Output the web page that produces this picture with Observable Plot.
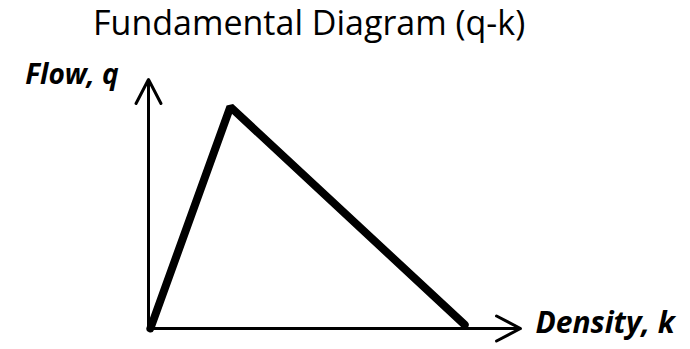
<!DOCTYPE html>
<html>
<head>
<meta charset="utf-8">
<script src="https://cdn.jsdelivr.net/npm/d3@7"></script>
<script src="https://cdn.jsdelivr.net/npm/@observablehq/plot@0.6"></script>
<style>
  body { margin: 0; background: #fff; }
  #wrap { width: 690px; height: 349px; position: relative; overflow: hidden; }
  #title { height: 50px; line-height: 44px; font-family: "Open Sans", sans-serif; font-size: 34px; color: #000; padding-left: 93px; white-space: nowrap; box-sizing: border-box; }
  svg { display: block; }
</style>
</head>
<body>
<div id="wrap">
  <div id="title">Fundamental Diagram (q-k)</div>
</div>
<script>
// Triangular fundamental diagram: density k vs flow q
const density = [0.5, 22, 85];
const flow = [0, 89, 1.5];
const xLabel = "Density, k";
const yLabel = "Flow, q";
const axisMax = 100;

const curve = density.map((k, i) => ({k, q: flow[i]}));
const axes = [
  {x1: 0, y1: 0, x2: 0, y2: axisMax},
  {x1: 0, y1: 0, x2: axisMax, y2: 0}
];
const yLab = [{x: -8, y: 101.6, text: yLabel}];
const xLab = [{x: 104, y: 2, text: xLabel}];

const chart = Plot.plot({
  width: 690,
  height: 299,
  marginLeft: 148,
  marginRight: 170,
  marginTop: 29,
  marginBottom: 21,
  x: {domain: [0, axisMax], axis: null},
  y: {domain: [0, axisMax], axis: null},
  marks: [
    Plot.arrow(axes, {x1: "x1", y1: "y1", x2: "x2", y2: "y2", stroke: "#000", strokeWidth: 3, headLength: 13.5, headAngle: 55, bend: 0}),
    Plot.line(curve, {x: "k", y: "q", stroke: "#000", strokeWidth: 8, strokeLinejoin: "miter", strokeLinecap: "round"}),
    Plot.text(yLab, {x: "x", y: "y", text: "text", textAnchor: "end", fontFamily: "Open Sans", fontWeight: "bold", fontStyle: "italic", fontSize: 28, fill: "#000"}),
    Plot.text(xLab, {x: "x", y: "y", text: "text", textAnchor: "start", fontFamily: "Open Sans", fontWeight: "bold", fontStyle: "italic", fontSize: 30, fill: "#000"})
  ]
});
document.getElementById("wrap").appendChild(chart);
</script>
</body>
</html>
